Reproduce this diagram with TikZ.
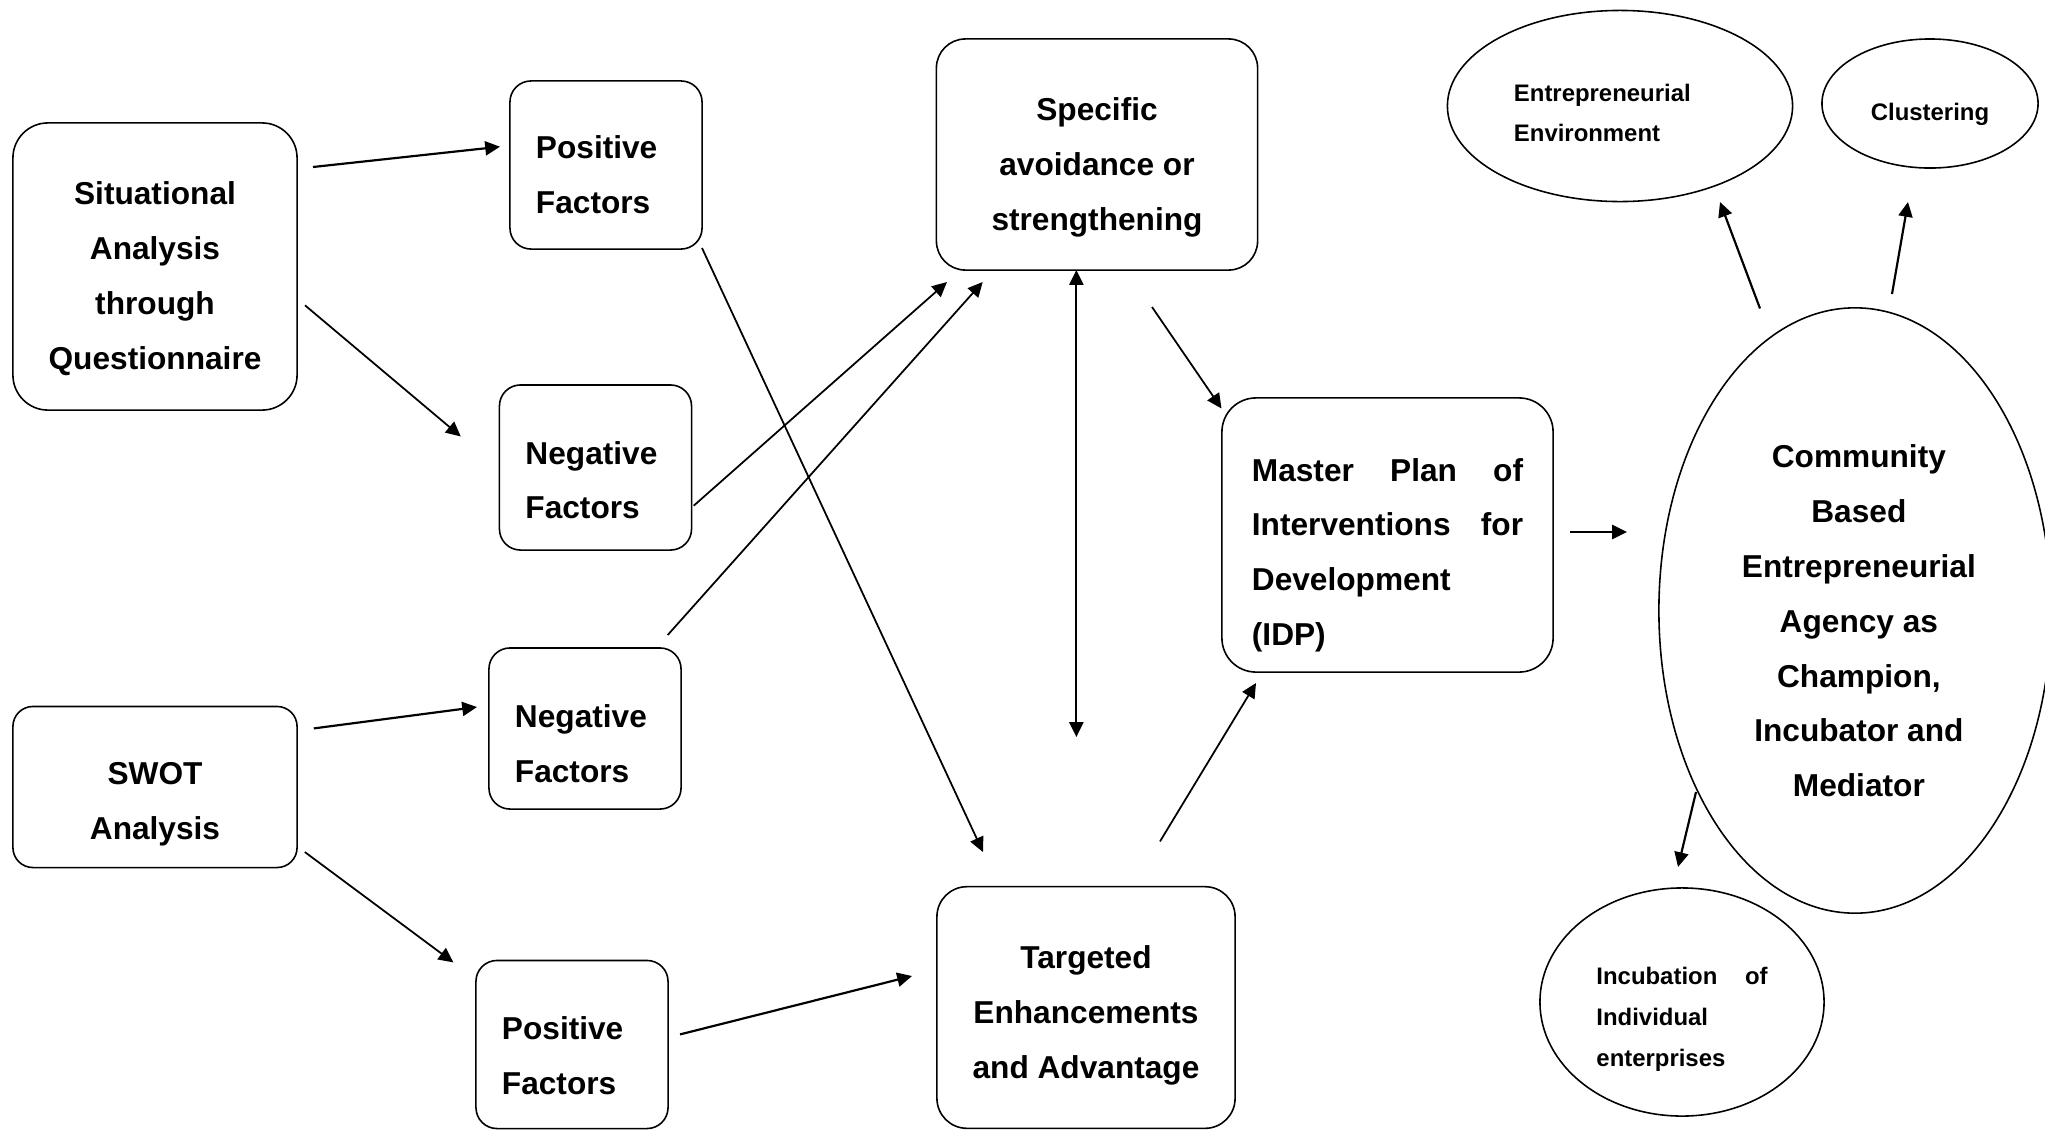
\documentclass[tikz,border=0pt]{standalone}
\usepackage{fontspec}
\setmainfont{Liberation Sans}
\usetikzlibrary{arrows.meta,shapes.geometric}
% invisible strut that pads the first line of a node from above
\newcommand\toppad[1]{\rule{0pt}{#1}}
% a line spread evenly over a given width
\newcommand\spreadline[2]{\makebox[#1][s]{#2}}
% small indent that nudges a centred line to the right
\newcommand\nudge{\hspace*{2.2pt}}

\begin{document}
\begin{tikzpicture}[x=0.01cm,y=-0.01cm,
  mainfont/.style={font=\fontsize{9}{15.6}\selectfont\bfseries},
  smallfont/.style={font=\fontsize{6.8}{11.6}\selectfont\bfseries},
  box/.style={draw, line width=0.45pt, inner xsep=0pt, inner ysep=0pt, mainfont},
  leftbox/.style={box, minimum width=1.92cm, text width=1.4cm, inner xsep=0.26cm,
                  align=left, rounded corners=0.21cm},
  ell/.style={draw, ellipse, line width=0.45pt, inner sep=0pt},
  arr/.style={line width=0.5pt, -{Triangle[length=4.2pt,width=4pt]}},
  boldarr/.style={arr, line width=0.62pt},
  twoarr/.style={line width=0.55pt, {Triangle[length=4.2pt,width=4pt]}-{Triangle[length=4.2pt,width=4pt]}}
]
\fill[white] (0,0) rectangle (2045,1130);
\useasboundingbox (0,0) rectangle (2045,1130);

% ---------- boxes ----------
\node[box, align=center, rounded corners=0.35cm, minimum width=2.84cm, minimum height=2.87cm]
  (sit) at (155,266.5) {\toppad{13.4pt}Situational\\Analysis\\through\\Questionnaire};
\node[box, align=center, rounded corners=0.2cm, minimum width=2.84cm, minimum height=1.61cm]
  (swot) at (155,787) {\toppad{16pt}SWOT\\Analysis};

\node[leftbox, minimum height=1.68cm] (pos1) at (606,165) {\toppad{12.2pt}Positive\\Factors};
\node[leftbox, minimum height=1.65cm] (neg1) at (595.5,467.5) {\toppad{13.7pt}Negative\\Factors};
\node[leftbox, minimum height=1.61cm] (neg2) at (585,728.5) {\toppad{15.3pt}Negative\\Factors};
\node[leftbox, minimum height=1.68cm] (pos2) at (572,1044.5) {\toppad{12.8pt}Positive\\Factors};

\node[box, align=center, rounded corners=0.29cm, minimum width=3.21cm, minimum height=2.31cm]
  (spec) at (1097,154.5) {\toppad{13.7pt}Specific\\avoidance or\\strengthening};
\node[box, align=center, rounded corners=0.3cm, minimum width=2.98cm, minimum height=2.415cm]
  (targ) at (1086,1007.5) {\toppad{10.9pt}Targeted\\Enhancements\\and Advantage};

\node[box, align=left, rounded corners=0.34cm, minimum width=3.31cm, minimum height=2.74cm,
      text width=2.71cm, inner xsep=0.3cm]
  (idp) at (1387.5,535) {\toppad{18pt}\spreadline{2.71cm}{Master\hfill Plan\hfill of}\\
     \spreadline{2.71cm}{Interventions\hfill for}\\Development\\(IDP)};

% ---------- ellipses ----------
\node[ell, smallfont, minimum width=3.45cm, minimum height=1.91cm, text width=2.12cm, align=left]
  (env) at (1620,106) {\toppad{8.9pt}Entrepreneurial\\Environment};
\node[ell, smallfont, minimum width=2.16cm, minimum height=1.29cm]
  (clus) at (1930,103.5) {\toppad{11.1pt}Clustering};
\node[ell, mainfont, align=center, minimum width=3.92cm, minimum height=6.05cm]
  (cbea) at (1855,610.5) {\toppad{12.4pt}\nudge Community\\\nudge Based\\\nudge Entrepreneurial\\\nudge Agency as\\\nudge Champion,\\\nudge Incubator and\\\nudge Mediator};
\node[ell, smallfont, minimum width=2.84cm, minimum height=2.28cm, text width=1.71cm, align=left]
  (incub) at (1682,1002) {\toppad{14.9pt}\spreadline{1.71cm}{Incubation\hfill of}\\Individual\\enterprises};

% ---------- connector ends ----------
\coordinate (sit-a) at (313,167);     \coordinate (pos1-in) at (500,146.7);
\coordinate (sit-b) at (305,305.3);   \coordinate (neg1-in) at (460.8,436.5);
\coordinate (pos1-out) at (702,248);  \coordinate (targ-in1) at (983,852);
\coordinate (neg1-out) at (693.7,505.7); \coordinate (spec-in1) at (947,282);
\coordinate (neg2-out) at (667.7,635); \coordinate (spec-in2) at (982.7,282);
\coordinate (spec-bot) at (1076.4,270); \coordinate (targ-top) at (1076.4,737);
\coordinate (spec-out) at (1152,307); \coordinate (idp-in1) at (1221.5,408.5);
\coordinate (targ-out) at (1160,841.4); \coordinate (idp-in2) at (1256,683);
\coordinate (idp-out) at (1570,532);  \coordinate (cbea-in) at (1627,532);
\coordinate (swot-a) at (313.8,728.4); \coordinate (neg2-in) at (477,707);
\coordinate (swot-b) at (304.8,852);  \coordinate (pos2-in) at (453.4,962.4);
\coordinate (pos2-out) at (680,1034.4); \coordinate (targ-in2) at (912,976);
\coordinate (cbea-o1) at (1760,308.5); \coordinate (env-in) at (1720,202);
\coordinate (cbea-o2) at (1892,294);  \coordinate (clus-in) at (1908,202);
\coordinate (cbea-o3) at (1696,792);  \coordinate (incub-in) at (1678,867);

% ---------- connectors ----------
\draw[boldarr] (sit-a) -- (pos1-in);
\draw[arr] (sit-b) -- (neg1-in);
\draw[arr] (pos1-out) -- (targ-in1);
\draw[arr] (neg1-out) -- (spec-in1);
\draw[arr] (neg2-out) -- (spec-in2);
\draw[twoarr] (spec-bot) -- (targ-top);
\draw[arr] (spec-out) -- (idp-in1);
\draw[arr] (targ-out) -- (idp-in2);
\draw[boldarr] (idp-out) -- (cbea-in);
\draw[boldarr] (swot-a) -- (neg2-in);
\draw[arr] (swot-b) -- (pos2-in);
\draw[boldarr] (pos2-out) -- (targ-in2);
\draw[boldarr] (cbea-o1) -- (env-in);
\draw[boldarr] (cbea-o2) -- (clus-in);
\draw[boldarr] (cbea-o3) -- (incub-in);
\end{tikzpicture}
\end{document}
